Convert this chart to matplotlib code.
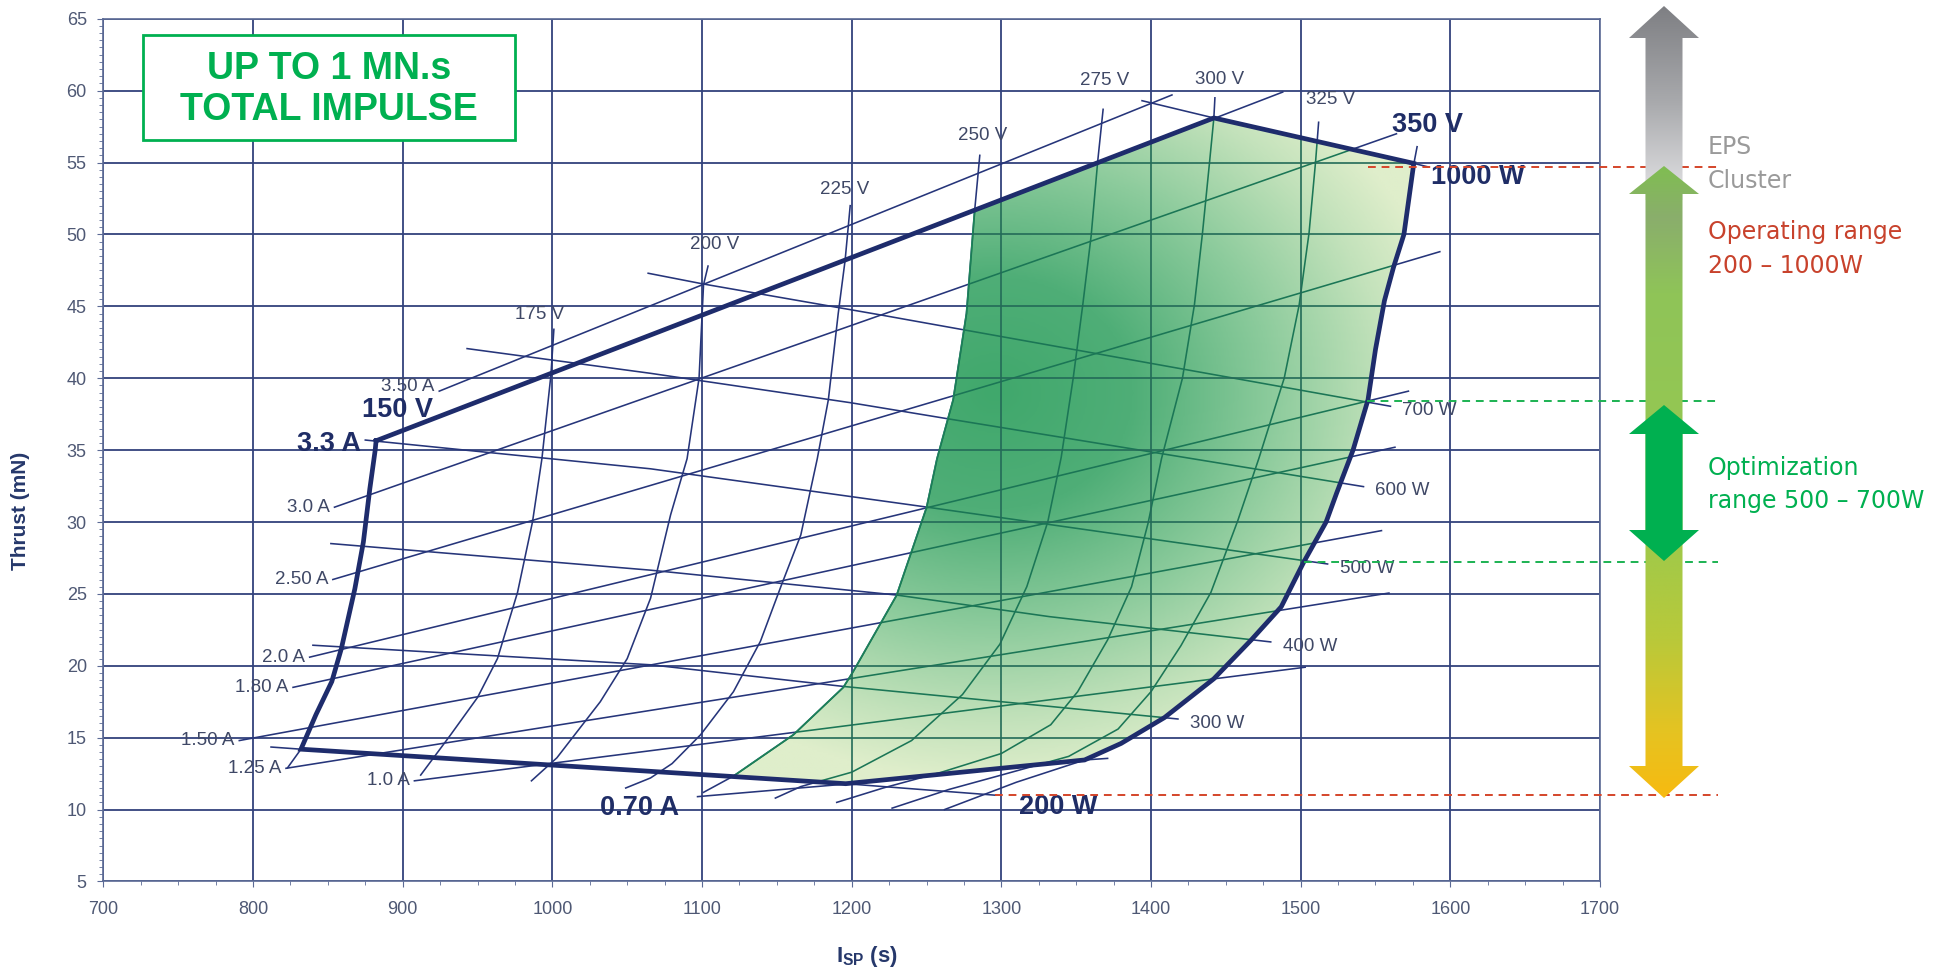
import numpy as np
import matplotlib
matplotlib.use("Agg")
import matplotlib.pyplot as plt
from matplotlib.patches import Polygon, Rectangle
from matplotlib.colors import LinearSegmentedColormap

plt.rcParams['font.family'] = ['Liberation Sans', 'DejaVu Sans']
plt.rcParams['mathtext.fontset'] = 'custom'
plt.rcParams['mathtext.rm'] = 'Liberation Sans'
plt.rcParams['mathtext.bf'] = 'Liberation Sans:bold'

# ---- data: Isp (s) / thrust (mN) ----
volt_labels = ["150 V", "175 V", "200 V", "225 V", "250 V", "275 V", "300 V", "325 V", "350 V"]
volt_isp = [
    [882.2, 881.6, 878, 873.7, 868, 859, 852.6, 842, 832, 823],
    [1001, 999, 993, 986.7, 976.7, 963.3, 950, 932, 912],
    [1104, 1101, 1098, 1090, 1079, 1065.6, 1050, 1032, 1003, 986],
    [1199, 1195.6, 1191, 1184.4, 1177, 1166, 1153, 1139, 1121, 1099, 1080, 1065.6, 1049],
    [1285.6, 1282.2, 1276.7, 1267.8, 1257, 1250, 1230, 1201, 1194.4, 1161, 1121, 1101],
    [1368, 1364.4, 1360, 1354.4, 1348, 1340, 1331, 1317, 1299, 1274, 1240, 1200, 1166, 1149],
    [1442.7, 1442, 1439, 1434.4, 1429, 1421, 1407, 1398, 1387, 1371, 1351, 1333, 1300, 1260, 1221, 1190],
    [1512, 1510, 1505.6, 1499, 1489, 1472, 1458, 1440, 1420, 1400, 1378, 1345, 1300, 1265, 1227],
    [1577.8, 1575.6, 1569, 1562, 1556, 1550, 1545, 1535, 1524, 1517, 1502, 1487, 1467, 1442, 1409,
     1380, 1355.6, 1310, 1262],
]
volt_thr = [
    [35.65, 35.0, 32.3, 28.6, 25.35, 21.2, 18.9, 16.6, 14.2, 12.9],
    [43.4, 40.2, 34.4, 30.0, 25.1, 20.5, 17.8, 15.2, 12.4],
    [47.8, 46.5, 40.0, 34.4, 30.5, 24.7, 20.5, 17.5, 13.6, 12.0],
    [52.0, 48.2, 44.5, 38.5, 34.4, 29.1, 25.6, 21.7, 18.2, 15.2, 13.2, 12.2, 11.5],
    [55.5, 51.7, 44.5, 38.5, 34.4, 31.0, 24.9, 19.6, 18.5, 15.2, 12.33, 11.2],
    [58.7, 55.1, 49.9, 45.1, 40.0, 34.5, 30.0, 25.5, 21.5, 18.0, 14.8, 12.6, 11.6, 10.8],
    [59.5, 58.1, 54.9, 50.1, 45.1, 40.0, 34.4, 29.9, 25.5, 21.8, 18.2, 15.9, 13.9, 12.6, 11.5, 10.5],
    [57.8, 55.1, 50.1, 45.1, 40.0, 34.4, 30.1, 25.1, 21.4, 18.2, 15.6, 13.7, 12.4, 11.4, 10.1],
    [56.1, 54.9, 50.0, 47.7, 45.4, 42.0, 38.5, 35.0, 32.0, 30.0, 27.2, 24.1, 21.8, 19.1, 16.4,
     14.6, 13.45, 11.9, 10.0],
]

amp_labels = ["0.70 A", "1.0 A", "1.25 A", "1.50 A", "1.80 A", "2.0 A", "2.50 A", "3.0 A", "3.3 A", "3.50 A"]
amp_isp = [[1097, 1199, 1355.6, 1371], [907.8, 1503], [822, 1559], [790.8, 1554], [826.7, 1563],
           [837.8, 1572], [853.3, 1593], [854.4, 1564], [882.2, 1488], [924.4, 1414]]
amp_thr = [[10.9, 11.8, 13.45, 13.56], [12.0, 19.9], [12.87, 25.06], [14.8, 29.4], [18.5, 35.2],
           [20.6, 39.1], [26.0, 48.8], [31.03, 57.0], [35.65, 59.9], [39.1, 59.7]]

watt_labels = ["200 W", "300 W", "400 W", "500 W", "600 W", "700 W", "1000 W"]
watt_isp = [[812, 832, 1000, 1121, 1196, 1296], [840, 1065.6, 1194, 1332, 1418],
            [852, 1065.6, 1230, 1332, 1480], [875, 1065.6, 1250, 1518],
            [943, 1065.6, 1199, 1263, 1542], [1064, 1101, 1221, 1332, 1560],
            [1394, 1442, 1575.6, 1585]]
watt_thr = [[14.35, 14.2, 13.13, 12.33, 11.8, 11.0], [21.43, 20.07, 18.57, 17.18, 16.3],
            [28.5, 26.65, 24.92, 23.42, 21.66], [35.7, 33.7, 31.04, 27.08],
            [42.06, 40.34, 38.3, 37.2, 32.46], [47.3, 46.55, 44.37, 42.3, 38.05],
            [59.3, 58.1, 54.94, 54.7]]

# operating envelope (thick outline)
edge_isp = [882.2, 1442, 1575.6, 1569, 1562, 1556, 1550, 1545, 1535, 1524, 1517, 1502, 1487, 1467,
            1442, 1409, 1380, 1355.6, 1196, 832, 842, 852.6, 859, 868, 873.7, 878, 881.6, 882.2]
edge_thr = [35.65, 58.1, 54.94, 50.0, 47.7, 45.4, 42.0, 38.5, 35.0, 32.0, 30.0, 27.2, 24.1, 21.8,
            19.1, 16.4, 14.6, 13.45, 11.8, 14.2, 16.6, 18.9, 21.2, 25.35, 28.6, 32.3, 35.0, 35.65]

# shaded region (250 V .. 350 V)
green_isp = [1282.2, 1276.7, 1267.8, 1257, 1250, 1230, 1201, 1194.4, 1161, 1121, 1196, 1355.6, 1380,
             1409, 1442, 1467, 1487, 1502, 1517, 1524, 1535, 1545, 1550, 1556, 1562, 1569, 1575.6, 1442]
green_thr = [51.7, 44.5, 38.5, 34.4, 31.0, 24.9, 19.6, 18.5, 15.2, 12.33, 11.8, 13.45, 14.6,
             16.4, 19.1, 21.8, 24.1, 27.2, 30.0, 32.0, 35.0, 38.5, 42.0, 45.4, 47.7, 50.0, 54.94, 58.1]

# range markers on the 350 V line
op_thr = [54.7, 11.0]
op_isp = [1545, 1296]
opt_thr = [38.4, 27.2]
opt_isp = [1544, 1502]

# where the voltage labels sit
volt_label_x = [991.7, 1108.3, 1195, 1287.5, 1369, 1445.8, 1520]
volt_label_y = [44.4, 49.3, 53.1, 56.9, 60.7, 60.75, 59.4]

navy = '#26357a'
teal = '#1b7656'
label_c = '#3f4866'
bold_c = '#1f2d66'

fig = plt.figure(figsize=(19.55, 9.71), dpi=100)
ax = fig.add_axes([0.0529, 0.0922, 0.7655, 0.8885])

xt = np.arange(700, 1701, 100)
yt = np.arange(5, 66, 5)
ax.set_xticks(xt)
ax.set_yticks(yt)
ax.set_xticks(np.arange(700, 1701, 25), minor=True)
ax.set_yticks(np.arange(5, 65.1, 0.5), minor=True)
ax.grid(True, which='major', color='#33427c', lw=1.3)
ax.set_axisbelow(True)
ax.tick_params(which='major', direction='out', length=4, color='#5b6a95', labelsize=13,
               labelcolor='#4e5874')
ax.tick_params(axis='x', which='major', pad=10)
ax.tick_params(axis='y', which='major', pad=8)
ax.tick_params(which='minor', direction='out', length=3, color='#5b6a95')
for s in ax.spines.values():
    s.set_color('#5b6a95')
    s.set_linewidth(1.2)

# family lines
families = [(volt_isp, volt_thr), (amp_isp, amp_thr), (watt_isp, watt_thr)]
for xs_list, ys_list in families:
    for xs, ys in zip(xs_list, ys_list):
        ax.plot(xs, ys, color=navy, lw=1.15, zorder=2)

# gradient shading
gpatch = Polygon(np.column_stack([green_isp, green_thr]), closed=True, fc='none', ec='none')
ax.add_patch(gpatch)
gx = np.linspace(1100, 1600, 400)
gy = np.linspace(10, 60, 400)
GX, GY = np.meshgrid(gx, gy)
rr = np.sqrt(((GX - 1295) / 310) ** 2 + ((GY - 39) / 27) ** 2)
gcmap = LinearSegmentedColormap.from_list(
    'g', [(0, '#40a86c'), (0.3, '#4fae77'), (0.6, '#8ccb9c'), (0.85, '#c3e2bb'), (1, '#dfeecb')])
im = ax.imshow(np.clip(rr, 0, 1), extent=[1100, 1600, 10, 60], origin='lower', cmap=gcmap,
               vmin=0, vmax=1, aspect='auto', zorder=3, interpolation='bilinear')
im.set_clip_path(gpatch)
ax.add_patch(Polygon(np.column_stack([green_isp, green_thr]), closed=True, fc='none',
                     ec='#1f8a5c', lw=1.3, zorder=4))

# lines and grid seen through the shading
for xs_list, ys_list in families:
    for xs, ys in zip(xs_list, ys_list):
        ln, = ax.plot(xs, ys, color=teal, lw=1.15, zorder=4)
        ln.set_clip_path(gpatch)
for v in xt:
    ln = ax.axvline(v, color='#236b58', lw=1.2, zorder=4)
    ln.set_clip_path(gpatch)
for v in yt:
    ln = ax.axhline(v, color='#236b58', lw=1.2, zorder=4)
    ln.set_clip_path(gpatch)

# envelope
ax.plot(edge_isp, edge_thr, color='#1e2c6c', lw=3.4, zorder=5, solid_joinstyle='miter')

# labels on the lines
for lab, lx, ly in zip(volt_labels[1:8], volt_label_x, volt_label_y):
    ax.text(lx, ly, lab, ha='center', va='center', fontsize=13.5, color=label_c, zorder=6)
for lab, xs, ys in zip(amp_labels[1:8] + amp_labels[9:], amp_isp[1:8] + amp_isp[9:],
                       amp_thr[1:8] + amp_thr[9:]):
    dy = 0.35 if lab == "3.50 A" else 0.0
    ax.text(xs[0] - 3, ys[0] + dy, lab, ha='right', va='center', fontsize=13.5,
            color=label_c, zorder=6)
for lab, xs, ys in zip(watt_labels[1:6], watt_isp[1:6], watt_thr[1:6]):
    ax.text(xs[-1] + 8, ys[-1] - 0.3, lab, ha='left', va='center', fontsize=13.5,
            color=label_c, zorder=6)

bsize = 19.5
ax.text(volt_isp[0][0] + 14, volt_thr[0][0] + 2.15, volt_labels[0], ha='center', va='center',
        fontsize=bsize, fontweight='bold', color=bold_c, zorder=6)
ax.text(volt_isp[0][0] - 10, volt_thr[0][0] - 0.2, amp_labels[8], ha='right', va='center',
        fontsize=bsize, fontweight='bold', color=bold_c, zorder=6)
ax.text(volt_isp[8][0] + 7, volt_thr[8][0] + 1.5, volt_labels[8], ha='center', va='center',
        fontsize=bsize, fontweight='bold', color=bold_c, zorder=6)
ax.text(watt_isp[6][-1] + 2, watt_thr[6][-1] - 0.7, watt_labels[6], ha='left', va='center',
        fontsize=bsize, fontweight='bold', color=bold_c, zorder=6)
ax.text(amp_isp[0][0] - 12, amp_thr[0][0] - 0.8, amp_labels[0], ha='right', va='center',
        fontsize=bsize, fontweight='bold', color=bold_c, zorder=6)
ax.text(watt_isp[0][-1] + 16, watt_thr[0][-1] - 0.8, watt_labels[0], ha='left', va='center',
        fontsize=bsize, fontweight='bold', color=bold_c, zorder=6)

# range marker dashes
x_far = 1779
for xv, yv in zip(op_isp, op_thr):
    ax.plot([xv, x_far], [yv, yv], color='#d4452a', lw=1.4, ls=(0, (4, 3)), clip_on=False, zorder=6)
for xv, yv in zip(opt_isp, opt_thr):
    ax.plot([xv, x_far], [yv, yv], color='#1cb252', lw=1.4, ls=(0, (4, 3)), clip_on=False, zorder=6)

ax.set_xlim(700, 1700)
ax.set_ylim(5, 65)

ax.set_ylabel('Thrust (mN)', fontsize=15, fontweight='bold', color='#26386b')
ax.yaxis.set_label_coords(-0.049, 0.43)
ax.set_xlabel(r'$\mathbf{I_{SP}}$ (s)', fontsize=16, fontweight='bold', color='#26386b')
ax.xaxis.label.set_va('center')
ax.xaxis.set_label_coords(0.51, -0.087)

# total impulse box
ax.add_patch(Rectangle((0.0264, 0.859), 0.2486, 0.122, transform=ax.transAxes, fc='white',
                       ec='#00b050', lw=2, zorder=7))
ax.text(0.1507, 0.918, 'UP TO 1 MN.s\nTOTAL IMPULSE', transform=ax.transAxes, ha='center',
        va='center', fontsize=27, fontweight='bold', color='#00b050', linespacing=1.15, zorder=8)

# right-hand arrows (figure pixel space)
ov = fig.add_axes([0, 0, 1, 1], zorder=5)
ov.patch.set_alpha(0)
ov.axis('off')
cx, hs, hh = 1664, 18.5, 35


def grad_arrow(verts, colors, y0, y1):
    poly = Polygon(verts, closed=True, fc='none', ec='none')
    ov.add_patch(poly)
    cm = LinearSegmentedColormap.from_list('a', colors)
    g = ov.imshow(np.linspace(0, 1, 256).reshape(-1, 1), extent=[cx - 40, cx + 40, y1, y0],
                  cmap=cm, aspect='auto', origin='upper', zorder=2, interpolation='bilinear')
    g.set_clip_path(poly)


grad_arrow([(cx, 6), (cx + hh, 38), (cx + hs, 38), (cx + hs, 200), (cx - hs, 200), (cx - hs, 38),
            (cx - hh, 38)], ['#7e7f83', '#a9aaad', '#e4e4e6'], 6, 200)
grad_arrow([(cx, 166), (cx + hh, 194), (cx + hs, 194), (cx + hs, 766), (cx + hh, 766), (cx, 798),
            (cx - hh, 766), (cx - hs, 766), (cx - hs, 194), (cx - hh, 194)],
           [(0, '#80bd52'), (0.08, '#8aae6c'), (0.2, '#8fc458'), (0.55, '#98c94f'),
            (0.75, '#b9c93a'), (0.9, '#e6c321'), (1, '#f7ba10')], 166, 798)
ov.add_patch(Polygon([(cx, 405), (cx + hh, 434), (cx + hs, 434), (cx + hs, 530), (cx + hh, 530),
                      (cx, 561), (cx - hh, 530), (cx - hs, 530), (cx - hs, 434), (cx - hh, 434)],
                     closed=True, fc='#00b050', ec='none', zorder=3))
ov.set_xlim(0, 1955)
ov.set_ylim(971, 0)

tx = 1708
ov.text(tx, 147, 'EPS', fontsize=17, color='#9a9a9a', family='DejaVu Sans', va='center')
ov.text(tx, 181, 'Cluster', fontsize=17, color='#9a9a9a', family='DejaVu Sans', va='center')
ov.text(tx, 232, 'Operating range', fontsize=17, color='#c8422c', family='DejaVu Sans', va='center')
ov.text(tx, 266, '200 \u2013 1000W', fontsize=17, color='#c8422c', family='DejaVu Sans', va='center')
ov.text(tx, 468, 'Optimization', fontsize=17, color='#00b050', family='DejaVu Sans', va='center')
ov.text(tx, 501, 'range 500 \u2013 700W', fontsize=17, color='#00b050', family='DejaVu Sans',
        va='center')

fig.savefig('out.png', dpi=100)
